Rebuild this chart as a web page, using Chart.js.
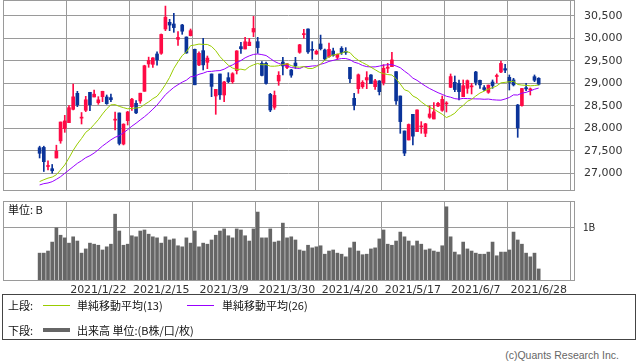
<!DOCTYPE html>
<html><head><meta charset="utf-8">
<script src="https://cdn.jsdelivr.net/npm/chart.js@4.4.1/dist/chart.umd.min.js"></script>
<style>
html,body{margin:0;padding:0;background:#fff;}
#wrap{position:relative;width:638px;height:362px;overflow:hidden;background:#fff;}
canvas{position:absolute;left:0;}
#c1{top:0;}
#c2{top:195px;}
.t{position:absolute;white-space:nowrap;font-family:"Noto Sans CJK JP",sans-serif;font-size:11px;line-height:14px;color:#111;}
.ln{position:absolute;height:0;}
#legend{position:absolute;left:2px;top:294px;width:634px;height:46px;border:1px solid #444;box-sizing:border-box;}
#copy{position:absolute;right:19px;top:349px;font-family:"Liberation Sans",Arial,sans-serif;font-size:10.5px;line-height:13px;color:#666;white-space:nowrap;}
</style></head>
<body><div id="wrap">
<canvas id="c1" width="638" height="191"></canvas>
<canvas id="c2" width="638" height="100"></canvas>
<div class="t" style="left:8px;top:202px;">単位: B</div>
<div id="legend"></div>
<div class="t" style="left:8px;top:298px;">上段:</div>
<div class="ln" style="left:43px;top:305px;width:27px;border-top:1px solid #99cc00;"></div>
<div class="t" style="left:77px;top:298px;">単純移動平均(13)</div>
<div class="ln" style="left:187px;top:305px;width:27px;border-top:1px solid #9900ff;"></div>
<div class="t" style="left:222px;top:298px;">単純移動平均(26)</div>
<div class="t" style="left:8px;top:323px;">下段:</div>
<div class="ln" style="left:43px;top:328px;width:27px;border-top:4px solid #666;"></div>
<div class="t" style="left:77px;top:323px;">出来高 単位:(B株/口/枚)</div>
<div id="copy">(c)Quants Research Inc.</div>
</div>
<script>
const dates = ['2020/12/30','2021/1/4','2021/1/5','2021/1/6','2021/1/7','2021/1/8','2021/1/12','2021/1/13','2021/1/14','2021/1/15','2021/1/18','2021/1/19','2021/1/20','2021/1/21','2021/1/22','2021/1/25','2021/1/26','2021/1/27','2021/1/28','2021/1/29','2021/2/1','2021/2/2','2021/2/3','2021/2/4','2021/2/5','2021/2/8','2021/2/9','2021/2/10','2021/2/12','2021/2/15','2021/2/16','2021/2/17','2021/2/18','2021/2/19','2021/2/22','2021/2/24','2021/2/25','2021/2/26','2021/3/1','2021/3/2','2021/3/3','2021/3/4','2021/3/5','2021/3/8','2021/3/9','2021/3/10','2021/3/11','2021/3/12','2021/3/15','2021/3/16','2021/3/17','2021/3/18','2021/3/19','2021/3/22','2021/3/23','2021/3/24','2021/3/25','2021/3/26','2021/3/29','2021/3/30','2021/3/31','2021/4/1','2021/4/2','2021/4/5','2021/4/6','2021/4/7','2021/4/8','2021/4/9','2021/4/12','2021/4/13','2021/4/14','2021/4/15','2021/4/16','2021/4/19','2021/4/20','2021/4/21','2021/4/22','2021/4/23','2021/4/26','2021/4/27','2021/4/28','2021/4/30','2021/5/6','2021/5/7','2021/5/10','2021/5/11','2021/5/12','2021/5/13','2021/5/14','2021/5/17','2021/5/18','2021/5/19','2021/5/20','2021/5/21','2021/5/24','2021/5/25','2021/5/26','2021/5/27','2021/5/28','2021/5/31','2021/6/1','2021/6/2','2021/6/3','2021/6/4','2021/6/7','2021/6/8','2021/6/9','2021/6/10','2021/6/11','2021/6/14','2021/6/15','2021/6/16','2021/6/17','2021/6/18','2021/6/21','2021/6/22','2021/6/23','2021/6/24','2021/6/25','2021/6/28'];

const open = [27568,27575,27151,27102,27340,27720,27992,28125,28421,28776,28225,28399,28799,28695,28569,28702,28695,28680,28180,28340,27650,28169,28480,28554,28606,28821,29428,29420,29650,29665,30205,30353,30316,29976,30294,30027,30057,29754,29406,29724,29465,29206,28717,29206,28739,29124,29035,29280,29813,29761,29835,30138,29924,29443,29443,28754,28466,29050,29472,29350,29295,29450,29687,30080,30205,29745,29650,29872,29739,29591,29716,29576,29776,29700,29354,28665,28880,28924,29073,29184,28924,29050,29013,29332,29369,29258,28717,27940,27740,28310,27925,28030,27888,28244,28206,28495,28399,28540,28910,29021,28999,28702,28887,28920,29250,29065,28902,28799,29028,29150,29250,29324,29132,29073,28517,28503,28902,28850,29146,29110];
const high = [27602,27602,27279,27196,27624,28139,28287,28503,28979,28820,28350,28710,28799,28850,28702,28822,28739,28762,28362,28340,28100,28377,28665,28614,28779,29400,29580,29570,29700,30094,30714,30420,30553,30146,30309,30030,30205,29760,29700,29998,29605,29206,28864,29206,29040,29235,29235,29724,29909,30020,29998,30485,30020,29480,29472,28776,28828,29258,29576,29443,29309,29576,29865,30198,30210,29924,29739,30070,29760,29894,29780,29650,29813,29791,29354,28776,29206,29058,29258,29190,29087,29060,29413,29443,29687,29258,28717,27940,28096,28310,28407,28147,28110,28495,28569,28577,28717,28591,29206,29161,29073,29073,29073,28999,29265,29073,28947,28961,29073,29206,29494,29420,29184,29110,28530,28887,28999,28895,29184,29124];
const low = [27340,27040,27073,27002,27340,27667,27910,28125,28406,28480,28095,28370,28390,28695,28532,28591,28532,28591,27962,27629,27630,28073,28399,28325,28554,28821,29354,29354,29400,29642,30168,30168,30131,29842,30087,29665,30050,28966,29391,29295,29324,28702,28310,28643,28591,29013,28999,29206,29665,29761,29835,30035,29665,29161,28980,28369,28421,28954,29184,29324,29132,29330,29665,29998,29665,29531,29642,29739,29520,29576,29600,29530,29640,29640,29013,28406,28776,28887,28880,28991,28865,28740,28961,29235,29369,28532,27888,27392,27740,27629,27925,27888,27814,28221,28206,28480,28377,28362,28902,28813,28628,28702,28776,28762,28961,28887,28836,28776,28887,29013,29235,29235,28850,28939,27799,28490,28836,28739,29035,28961];
const close = [27444,27258,27158,27056,27490,28139,28164,28457,28698,28519,28242,28633,28523,28757,28631,28822,28546,28635,28197,27663,28091,28362,28646,28342,28779,29389,29506,29563,29520,30084,30468,30292,30236,30018,30156,29672,30168,28966,29664,29408,29559,28930,28864,28743,29028,29037,29212,29718,29767,29921,29914,30217,29792,29174,28996,28406,28730,29177,29385,29433,29179,29389,29854,30089,29697,29731,29709,29768,29539,29752,29621,29643,29683,29685,29100,28509,29188,29021,29126,28992,29054,28813,29331,29358,29518,28609,28148,27448,28084,27825,28407,28044,28098,28318,28365,28554,28642,28549,29149,28860,28814,28946,29058,28942,29019,28964,28861,28959,28949,29162,29441,29291,29018,28964,28011,28884,28875,28875,29066,28980];
const sma13 = [26816,26857,26893,26916,26968,27074,27186,27341,27508,27651,27773,27910,27983,28084,28190,28318,28432,28520,28525,28486,28458,28432,28442,28450,28461,28528,28585,28657,28711,28829,28970,29131,29329,29477,29615,29694,29835,29849,29870,29863,29862,29817,29723,29591,29493,29401,29339,29305,29313,29294,29367,29409,29439,29409,29414,29379,29378,29389,29416,29433,29392,29363,29357,29371,29331,29326,29367,29427,29514,29592,29627,29646,29666,29705,29682,29579,29510,29458,29411,29356,29301,29245,29213,29193,29183,29100,28982,28855,28822,28717,28670,28587,28518,28462,28427,28367,28312,28238,28279,28334,28439,28505,28600,28641,28716,28783,28825,28870,28901,28941,29010,29020,29033,29044,28972,28959,28954,28943,28950,28960];
const sma26 = [26741,26770,26785,26814,26866,26925,26999,27073,27147,27221,27280,27347,27391,27450,27524,27606,27674,27744,27800,27836,27900,27970,28047,28112,28186,28256,28335,28424,28515,28631,28745,28828,28908,28968,29024,29068,29143,29155,29199,29224,29260,29264,29276,29281,29312,29365,29408,29460,29504,29565,29608,29640,29651,29636,29616,29551,29485,29441,29409,29386,29349,29338,29326,29369,29370,29383,29388,29421,29447,29485,29508,29531,29550,29549,29523,29468,29441,29395,29369,29362,29364,29380,29403,29410,29415,29383,29344,29269,29201,29114,29064,28999,28937,28882,28836,28790,28753,28711,28690,28658,28647,28664,28659,28656,28652,28651,28644,28649,28634,28627,28624,28650,28684,28742,28739,28780,28798,28830,28867,28893];
const volume = [0.51,0.51,0.55,0.72,0.99,0.85,0.80,0.70,0.82,0.74,0.51,0.59,0.70,0.68,0.66,0.57,0.63,0.68,1.25,0.93,0.66,0.68,0.84,0.82,0.93,0.95,0.87,0.82,0.80,0.70,0.82,0.76,0.78,0.65,0.63,0.80,0.70,0.93,0.63,0.70,0.68,0.76,0.85,0.93,0.97,0.84,0.80,0.97,0.95,0.84,0.74,0.97,1.29,0.80,0.80,0.97,0.72,0.74,1.08,0.80,0.82,0.76,0.57,0.55,0.66,0.61,0.63,0.65,0.49,0.55,0.57,0.51,0.49,0.44,0.61,0.72,0.55,0.48,0.49,0.59,0.61,0.78,0.95,0.68,0.66,0.74,0.91,0.82,0.74,0.65,0.74,0.68,0.57,0.59,0.55,0.53,0.65,1.39,0.82,0.53,0.48,0.72,0.59,0.55,0.51,0.49,0.49,0.53,0.72,0.46,0.53,0.53,0.57,0.91,0.76,0.68,0.51,0.44,0.51,0.21];
const dateTicks = ['2021/1/22','2021/2/15','2021/3/9','2021/3/30','2021/4/20','2021/5/17','2021/6/7','2021/6/28'];
const priceTicks = [27000,27500,28000,28500,29000,29500,30000,30500];
const volumeTicks = [1];

const UP = '#ff0a45', DOWN = '#0a3399', GRID = '#9a9a9a';
const X_MIN = -8.73, X_MAX = 127.42;
const tickIdx = dateTicks.map(d => dates.indexOf(d));
const idx = dates.map((d, i) => i);
const candleColor = c => close[c.dataIndex] >= open[c.dataIndex] ? UP : DOWN;

const frame = {
  id: 'frame',
  afterDraw(chart) {
    const {ctx, chartArea: a} = chart;
    ctx.save();
    ctx.strokeStyle = GRID; ctx.lineWidth = 1;
    ctx.strokeRect(Math.round(a.left) + 0.5, Math.round(a.top) + 0.5, Math.round(a.right - a.left), Math.round(a.bottom - a.top));
    ctx.restore();
  }
};

function xScale(showLabels, h) {
  return {
    type: 'linear', min: X_MIN, max: X_MAX, offset: false,
    afterBuildTicks: s => { s.ticks = tickIdx.map(v => ({value: v})); },
    afterFit: s => { s.height = h; s.paddingLeft = 0; s.paddingRight = 0; },
    grid: {color: GRID, lineWidth: 1, drawTicks: false},
    border: {display: false},
    ticks: {display: showLabels, autoSkip: false, maxRotation: 0, minRotation: 0, padding: 4,
      color: '#333', font: {family: 'DejaVu Sans', size: 11}, callback: v => dates[v] || ''}
  };
}

Chart.defaults.animation = false;

new Chart(document.getElementById('c1'), {
  type: 'bar',
  data: {datasets: [
    {type: 'line', data: idx.map(i => ({x: i, y: sma13[i]})), borderColor: '#99cc00', borderWidth: 1, pointRadius: 0, order: 0},
    {type: 'line', data: idx.map(i => ({x: i, y: sma26[i]})), borderColor: '#9900ff', borderWidth: 1, pointRadius: 0, order: 1},
    {data: idx.map(i => ({x: i, y: [open[i], close[i]]})), backgroundColor: candleColor, barThickness: 3, minBarLength: 1, grouped: false, order: 2},
    {data: idx.map(i => ({x: i, y: [low[i], high[i]]})), backgroundColor: candleColor, barThickness: 1, minBarLength: 1, grouped: false, order: 3}
  ]},
  options: {
    responsive: false, animation: false, devicePixelRatio: 1,
    layout: {padding: {left: 3, top: 0, right: 0, bottom: 0}},
    plugins: {legend: {display: false}, tooltip: {enabled: false}},
    scales: {
      x: xScale(false, 1),
      y: {type: 'linear', position: 'right', min: 26629, max: 30849,
        afterBuildTicks: s => { s.ticks = priceTicks.map(v => ({value: v})); },
        afterFit: s => { s.width = 64; s.paddingTop = 0; s.paddingBottom = 0; },
        grid: {color: GRID, lineWidth: 1, drawTicks: false}, border: {display: false},
        ticks: {padding: 10, color: '#333', font: {family: 'DejaVu Sans', size: 11}, callback: v => v.toLocaleString('en-US')}}
    }
  },
  plugins: [frame]
});

new Chart(document.getElementById('c2'), {
  type: 'bar',
  data: {datasets: [
    {data: idx.map(i => ({x: i, y: volume[i]})), backgroundColor: '#666666', barThickness: 3, grouped: false}
  ]},
  options: {
    responsive: false, animation: false, devicePixelRatio: 1,
    layout: {padding: {left: 3, top: 6, right: 0, bottom: 0}},
    plugins: {legend: {display: false}, tooltip: {enabled: false}},
    scales: {
      x: xScale(true, 15),
      y: {type: 'linear', position: 'right', min: 0, max: 1.5,
        afterBuildTicks: s => { s.ticks = volumeTicks.map(v => ({value: v})); },
        afterFit: s => { s.width = 64; s.paddingTop = 0; s.paddingBottom = 0; },
        grid: {color: GRID, lineWidth: 1, drawTicks: false}, border: {display: false},
        ticks: {padding: 9, color: '#222', font: {family: 'Noto Sans CJK JP', size: 10}, callback: v => v + 'B'}}
    }
  },
  plugins: [frame]
});
</script>
</body></html>
